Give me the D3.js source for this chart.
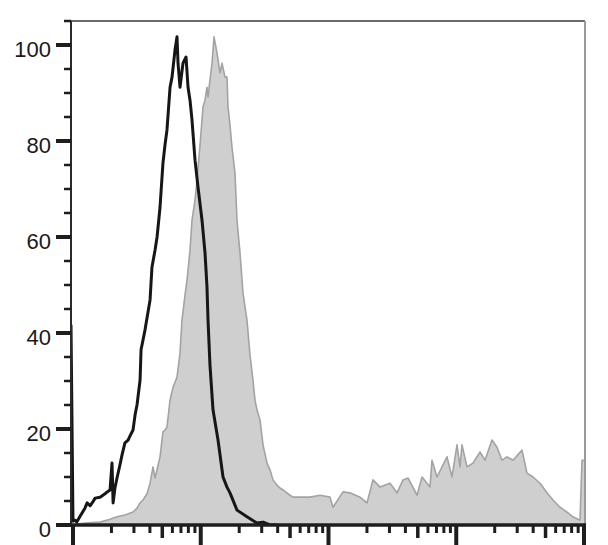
<!DOCTYPE html>
<html>
<head>
<meta charset="utf-8">
<script src="https://cdn.jsdelivr.net/npm/d3@7"></script>
<style>
  html, body { margin: 0; padding: 0; background: #fff; }
  svg { display: block; }
  text { font-family: "Liberation Sans", Arial, sans-serif; }
</style>
</head>
<body>
<div id="chart"></div>
<script>
// y axis: % of max, ticks every 5, labelled every 20
const yMax = 105;
const yTickValues = [0, 5, 10, 15, 20, 25, 30, 35, 40, 45, 50, 55, 60, 65, 70, 75, 80, 85, 90, 95, 100, 105];
const yTickLabels = [0, 20, 40, 60, 80, 100];

// x axis: fluorescence intensity, log decades (labels are cut off at the bottom edge)
const xDomain = [100, 1000000];
const xDecades = [100, 1000, 10000, 100000, 1000000];
const xTickLabels = ["10²", "10³", "10⁴", "10⁵", "10⁶"];

// isotype control (black line) [intensity, % of max]
const isotypeHist = [
  [96, 41.7], [100, 0.8], [104, 1.0], [107, 0.6], [113, 1.7], [124, 3.5], [129, 4.6],
  [136, 4.0], [143, 4.8], [149, 5.6], [163, 5.8], [178, 6.5], [185, 6.9], [195, 7.3],
  [202, 12.9], [206, 4.6], [213, 7.7], [221, 9.8], [233, 12.5], [242, 14.6], [255, 17.1],
  [270, 17.7], [279, 18.5], [295, 19.8], [306, 22.9], [317, 25], [335, 30.2], [341, 36.5],
  [366, 40.6], [401, 46.9], [415, 53.7], [439, 57.3], [455, 60], [480, 66.2], [506, 75.4],
  [525, 79.2], [544, 82.3], [575, 91.2], [596, 93.3], [629, 99], [652, 101.7], [664, 96.2],
  [688, 91.2], [726, 96.2], [767, 97.5], [795, 91.2], [824, 88.5], [854, 84.4], [902, 76],
  [952, 70.4], [1023, 63.5], [1080, 56.7], [1119, 49.6], [1140, 42.7], [1181, 33.3],
  [1247, 24], [1365, 17.7], [1494, 10], [1605, 7.9], [1694, 6.7], [1922, 3.1], [2301, 1.7],
  [2756, 0.4], [3072, 0.6], [3484, 0], [4000, 0]
];

// stained sample (grey filled) [intensity, % of max]
const stainedHist = [
  [100, 0], [107, 0.2], [124, 0.4], [163, 0.6], [195, 1.2], [221, 1.7], [255, 2.1],
  [295, 2.7], [317, 3.5], [335, 4.6], [353, 5.2], [380, 6.5], [401, 8.7], [423, 12.1],
  [439, 9.8], [455, 11.5], [480, 14.2], [506, 19.4], [525, 19.8], [544, 20.4], [575, 26],
  [607, 28.7], [652, 30.8], [688, 35.8], [713, 42.7], [753, 47.9], [781, 51], [824, 57.3],
  [854, 63.5], [902, 67.7], [935, 71.9], [987, 79.2], [1023, 84.4], [1041, 87.1],
  [1080, 88.5], [1119, 91.2], [1140, 89.2], [1181, 92.7], [1225, 96.2], [1270, 101.7],
  [1341, 98.3], [1415, 94.2], [1467, 96.2], [1548, 93.3], [1605, 93.3], [1634, 87.1],
  [1694, 83.3], [1756, 78.7], [1854, 73.3], [1922, 63.5], [2029, 56.7], [2142, 48.3],
  [2301, 42.7], [2429, 35.4], [2564, 30.2], [2658, 26], [2756, 24], [2910, 21.9],
  [3072, 16.7], [3301, 12.9], [3484, 11.5], [3678, 9.4], [3954, 8.3], [4173, 7.7],
  [4405, 7.3], [4994, 6.2], [5273, 5.8], [5983, 5.8], [7165, 5.8], [8579, 6.2],
  [10274, 5.8], [10845, 3.7], [12988, 6.9], [14734, 6.7], [17645, 5.8], [20014, 4.6],
  [22301, 9.4], [25300, 7.9], [30290, 8.7], [34380, 6.7], [38310, 9.4], [41920, 9.8],
  [49310, 6.2], [53950, 10], [62300, 7.9], [64590, 13.5], [70690, 10], [84650, 14.2],
  [92620, 10], [101370, 16.7], [106990, 12.1], [110900, 16.7], [121400, 12.1],
  [135250, 12.9], [153460, 15.2], [167890, 13.5], [190430, 17.7], [208440, 16.2],
  [228120, 13.5], [249670, 14.2], [278090, 13.5], [327000, 15.6], [357900, 10.8],
  [398900, 10], [452500, 8.7], [513300, 6.7], [571900, 5.2], [649000, 3.7], [736100, 2.7],
  [820100, 1.7], [930500, 1.0], [964700, 13.5], [1018000, 13.5]
];

var width = 608,
    height = 545;
var plotLeft = 71, plotRight = 585, plotTop = 21, plotBottom = 525;

var svg = d3.select("#chart")
    .append("svg")
        .attr("width", width)
        .attr("height", height);

var x = d3.scaleLog()
    .domain(xDomain)
    .range([73, 584]);

var y = d3.scaleLinear()
    .domain([0, yMax])
    .range([plotBottom, plotTop]);

svg.append("clipPath")
    .attr("id", "plotclip")
  .append("rect")
    .attr("x", plotLeft - 1)
    .attr("y", plotTop)
    .attr("width", plotRight - plotLeft + 1)
    .attr("height", plotBottom - plotTop);

var plot = svg.append("g").attr("clip-path", "url(#plotclip)");

// grey filled histogram
var area = d3.area()
    .x(d => x(d[0]))
    .y0(y(0))
    .y1(d => y(d[1]));

plot.append("path")
    .datum(stainedHist)
    .attr("d", area)
    .attr("fill", "#cfcfcf")
    .attr("stroke", "#a3a3a3")
    .attr("stroke-width", 1.6)
    .attr("stroke-linejoin", "round");

// black line histogram
var line = d3.line()
    .x(d => Math.max(x(d[0]), plotLeft))
    .y(d => y(d[1]));

plot.append("path")
    .datum(isotypeHist)
    .attr("d", line)
    .attr("fill", "none")
    .attr("stroke", "#161616")
    .attr("stroke-width", 3)
    .attr("stroke-linejoin", "round");

// frame: top and right
svg.append("line")
    .attr("x1", plotLeft).attr("x2", plotRight)
    .attr("y1", plotTop).attr("y2", plotTop)
    .attr("stroke", "#3a3a3a").attr("stroke-width", 1.5);
svg.append("line")
    .attr("x1", plotRight).attr("x2", plotRight)
    .attr("y1", plotTop).attr("y2", plotBottom)
    .attr("stroke", "#9a9a9a").attr("stroke-width", 2);

// y axis
var yAxis = svg.append("g");
yAxis.append("line")
    .attr("x1", plotLeft).attr("x2", plotLeft)
    .attr("y1", plotTop).attr("y2", plotBottom)
    .attr("stroke", "#2a2a2a").attr("stroke-width", 2);

yAxis.selectAll("line.tick")
    .data(yTickValues)
    .enter()
    .append("line")
        .attr("class", "tick")
        .attr("x1", d => yTickLabels.includes(d) ? 56 : 64)
        .attr("x2", plotLeft)
        .attr("y1", d => y(d))
        .attr("y2", d => y(d))
        .attr("stroke", "#1e1e1e")
        .attr("stroke-width", d => yTickLabels.includes(d) ? 4 : 2.5);

yAxis.selectAll("text")
    .data(yTickLabels)
    .enter()
    .append("text")
        .text(d => d)
        .attr("x", 51)
        .attr("y", d => y(d) + 12)
        .attr("text-anchor", "end")
        .attr("font-size", "22px")
        .attr("fill", "#1a1a1a");

// x axis
var xAxis = svg.append("g");
xAxis.append("line")
    .attr("x1", 56).attr("x2", plotRight + 1)
    .attr("y1", plotBottom).attr("y2", plotBottom)
    .attr("stroke", "#1e1e1e").attr("stroke-width", 3.5);

var xTicks = x.ticks().filter(d => d >= xDomain[0] && d <= xDomain[1]);
function tickKind(d) {
    var m = Math.round(d / Math.pow(10, Math.floor(Math.log10(d) + 1e-9)));
    return m === 1 ? 2 : (m === 5 ? 1 : 0);
}
xAxis.selectAll("line.tick")
    .data(xTicks)
    .enter()
    .append("line")
        .attr("class", "tick")
        .attr("x1", d => x(d))
        .attr("x2", d => x(d))
        .attr("y1", plotBottom)
        .attr("y2", d => [533, 538, 549][tickKind(d)])
        .attr("stroke", "#1e1e1e")
        .attr("stroke-width", d => [3, 3.5, 4][tickKind(d)]);

// decade labels: only their tops reach into the picture, as in the original
xAxis.selectAll("text")
    .data(xDecades)
    .enter()
    .append("text")
        .text((d, i) => xTickLabels[i])
        .attr("x", d => x(d))
        .attr("y", 562)
        .attr("text-anchor", "middle")
        .attr("font-size", "22px")
        .attr("fill", "#1a1a1a");
</script>
</body>
</html>
